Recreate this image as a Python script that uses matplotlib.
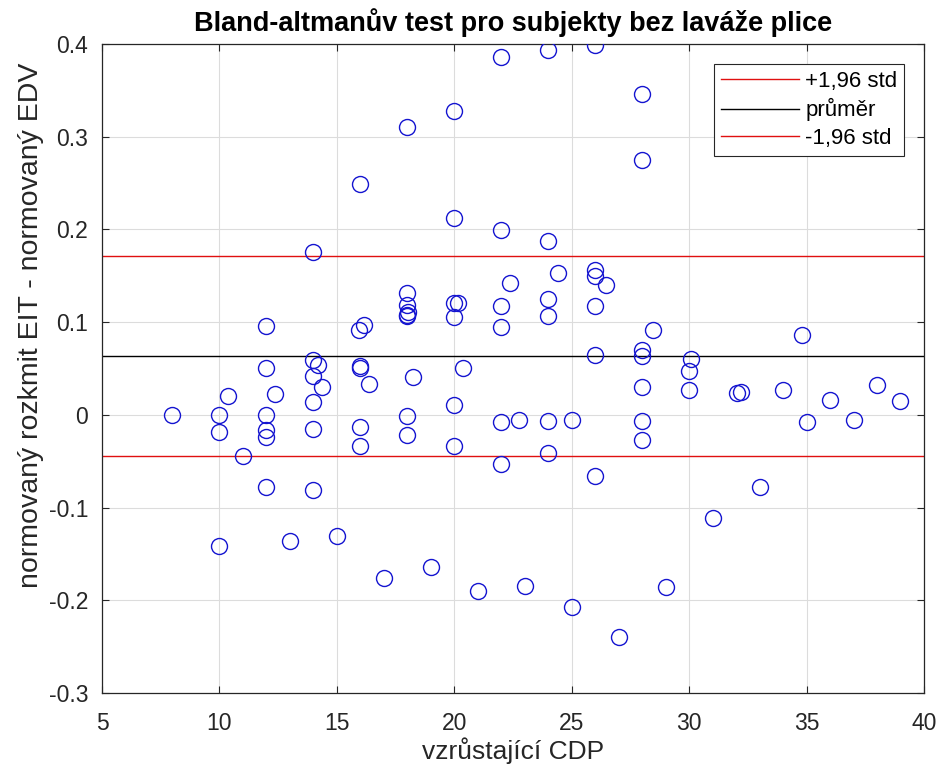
import matplotlib
matplotlib.use("Agg")
import matplotlib.pyplot as plt

# Differences between normalised EIT swing and normalised EDV against increasing CDP
cdp = [
    8, 10, 10, 10, 10.35, 11,
    12, 12, 12.36, 12, 12, 12, 12, 13,
    14, 14, 14.18, 14, 14.35, 14, 14, 14, 15,
    16, 16.15, 15.95, 16, 16, 16.38, 16, 16, 17,
    18, 18, 18, 18.04, 18, 18, 18.26, 18, 18, 19,
    20, 20, 20, 20.17, 20, 20.39, 20, 20, 21,
    22, 22, 22.37, 22, 22, 22, 22, 22.77, 23,
    24, 24, 24.42, 24, 24, 24, 24, 25, 25,
    26, 26, 26, 26.48, 26, 26, 26, 27,
    28, 28, 28.47, 28, 28, 28, 28, 28, 29,
    30.1, 30, 30, 31, 32.02, 32.2, 33, 34, 34.82, 35, 36, 37, 38, 39,
]
diff = [
    0.000, 0.000, -0.019, -0.141, 0.020, -0.044,
    0.096, 0.050, 0.023, 0.000, -0.016, -0.024, -0.078, -0.136,
    0.176, 0.059, 0.054, 0.042, 0.030, 0.014, -0.015, -0.081, -0.131,
    0.249, 0.097, 0.091, 0.053, 0.051, 0.033, -0.013, -0.034, -0.176,
    0.310, 0.131, 0.118, 0.111, 0.108, 0.107, 0.041, -0.001, -0.022, -0.164,
    0.328, 0.212, 0.121, 0.121, 0.105, 0.050, 0.011, -0.034, -0.190,
    0.386, 0.199, 0.142, 0.117, 0.095, -0.008, -0.053, -0.006, -0.185,
    0.393, 0.188, 0.153, 0.125, 0.107, -0.007, -0.041, -0.006, -0.207,
    0.399, 0.156, 0.150, 0.140, 0.117, 0.065, -0.066, -0.240,
    0.346, 0.275, 0.092, 0.070, 0.064, 0.030, -0.007, -0.027, -0.186,
    0.060, 0.047, 0.027, -0.111, 0.024, 0.025, -0.078, 0.027, 0.086, -0.008, 0.016, -0.006, 0.032, 0.015,
]

mean_diff = 0.0635
upper_loa = 0.1714
lower_loa = -0.0443

x_ticks = [5, 10, 15, 20, 25, 30, 35, 40]
y_ticks = [-0.3, -0.2, -0.1, 0, 0.1, 0.2, 0.3, 0.4]
y_tick_labels = ["-0.3", "-0.2", "-0.1", "0", "0.1", "0.2", "0.3", "0.4"]

plt.rcParams["font.family"] = ["Liberation Sans", "DejaVu Sans"]

fig = plt.figure(figsize=(9.41, 7.73), dpi=100)
ax = fig.add_axes([0.1084, 0.1035, 0.8735, 0.8396])

ax.plot(cdp, diff, linestyle="none", marker="o", markersize=11.5,
        markerfacecolor="none", markeredgecolor="#1414d0", markeredgewidth=1.0, zorder=3)

ax.axhline(upper_loa, color="#e01010", linewidth=1.0, label="+1,96 std", zorder=2)
ax.axhline(mean_diff, color="black", linewidth=1.0, label="průměr", zorder=2)
ax.axhline(lower_loa, color="#e01010", linewidth=1.0, label="-1,96 std", zorder=2)

ax.set_xlim(5, 40)
ax.set_ylim(-0.3, 0.4)
ax.set_xticks(x_ticks)
ax.set_yticks(y_ticks)
ax.set_yticklabels(y_tick_labels)
ax.grid(True, color="#dcdcdc", linewidth=0.8)
ax.set_axisbelow(True)
ax.tick_params(direction="in", top=True, right=True, length=5, width=0.8,
               color="#262626", labelsize=16.5, labelcolor="#262626")
ax.tick_params(axis="x", pad=14)
ax.tick_params(axis="y", pad=10)
for s in ax.spines.values():
    s.set_color("#262626")
    s.set_linewidth(0.9)

ax.set_title("Bland-altmanův test pro subjekty bez laváže plice",
             fontsize=19.5, fontweight="bold", pad=9)
ax.set_xlabel("vzrůstající CDP", fontsize=19, color="#262626", labelpad=1.5)
ax.set_ylabel("normovaný rozkmit EIT - normovaný EDV", fontsize=20.5, color="#262626")
ax.yaxis.set_label_coords(-0.07, 0.567)

leg = ax.legend(loc="upper right", fontsize=16, frameon=True, fancybox=False,
                edgecolor="#262626", framealpha=1, handlelength=3.5,
                borderaxespad=0.9, labelspacing=0.3, handletextpad=0.3, borderpad=0.3)
leg.get_frame().set_linewidth(0.8)

fig.savefig("out.png", dpi=100)
